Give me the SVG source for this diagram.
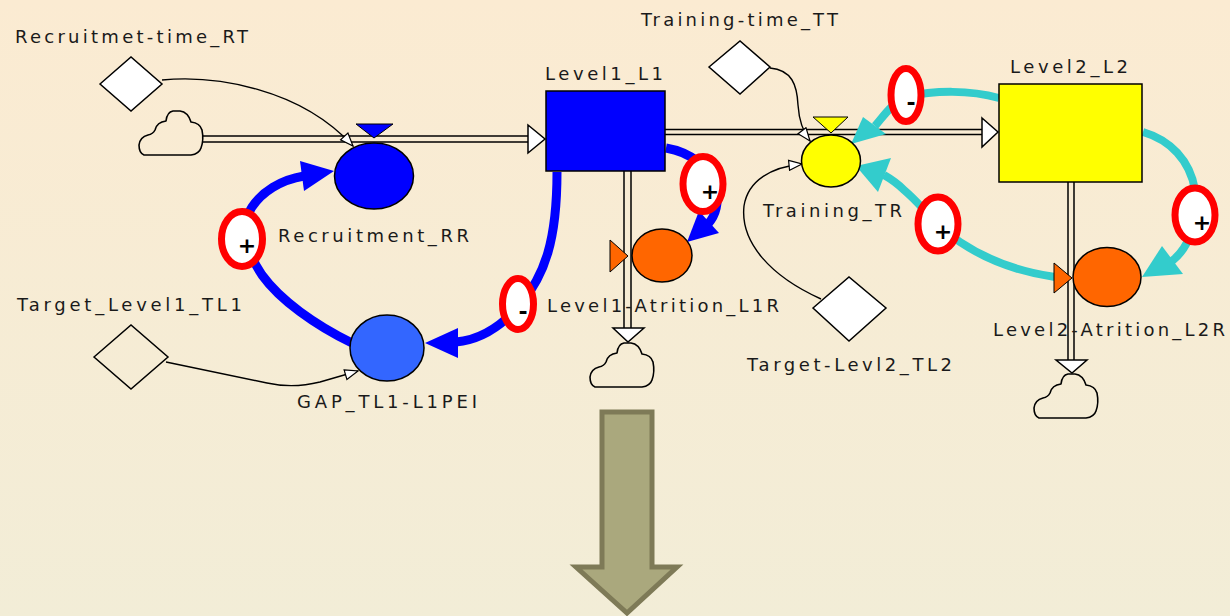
<svg xmlns="http://www.w3.org/2000/svg" width="1230" height="616" viewBox="0 0 1230 616">
  <style>
    .lbl { font-family: "DejaVu Sans", "Liberation Sans", sans-serif; font-size: 18px; fill: #1a1a1a; }
    .sign { font-family: "DejaVu Sans", "Liberation Sans", sans-serif; font-size: 22px; font-weight: bold; fill: #000; text-anchor: middle; }
    .pipe { stroke: #000; stroke-width: 1.5; fill: none; }
    .pipehead { fill: #fff; stroke: #000; stroke-width: 1.5; stroke-linejoin: miter; }
    .info { stroke: #000; stroke-width: 1.4; fill: none; }
    .blue { stroke: #0000FF; stroke-width: 9; fill: none; stroke-linecap: butt; }
    .cyan { stroke: #33CCCC; stroke-width: 8; fill: none; stroke-linecap: butt; }
    .blueHead { fill: #0000FF; }
    .cyanHead { fill: #33CCCC; }
    .pol { fill: #fff; stroke: #FF0000; stroke-width: 7; }
    .edge { stroke: #000; stroke-width: 1.5; }
    .cloud { fill: none; stroke: #000; stroke-width: 1.6; stroke-linejoin: round; }
    .diamond { fill: #fff; stroke: #000; stroke-width: 1.5; }
  </style>
  <defs>
    <linearGradient id="bg" x1="0" y1="0" x2="0" y2="1">
      <stop offset="0" stop-color="#FBEBD2"/>
      <stop offset="1" stop-color="#F2EDD7"/>
    </linearGradient>
    <marker id="hollow" markerWidth="16" markerHeight="12" refX="14" refY="6" orient="auto" markerUnits="userSpaceOnUse">
      <path d="M1,1 L14,6 L1,11 Z" fill="#fff" stroke="#000" stroke-width="1.2"/>
    </marker>
    <path id="cloudShape" class="cloud" d="M6,45 L53,45 Q61,44 63,38 Q66,30 64,20 Q62,13 53,12 Q50,2 42,1 L35,1 Q29,2 28,11 Q19,12 17,20 Q15,24 10,25 Q2,27 1,35 Q1,43 6,45 Z"/>
  </defs>

  <rect x="0" y="0" width="1230" height="616" fill="url(#bg)"/>

  <!-- material flows (pipes) and information / causal links -->
  <g id="connectors">
    <!-- source cloud to Level1 -->
    <line class="pipe" x1="203" y1="136" x2="529" y2="136"/>
    <line class="pipe" x1="203" y1="142" x2="529" y2="142"/>
    <polygon class="pipehead" points="528,125 545,139 528,153"/>
    <!-- Level1 to Level2 -->
    <line class="pipe" x1="665" y1="129.5" x2="983" y2="129.5"/>
    <line class="pipe" x1="665" y1="134.5" x2="983" y2="134.5"/>
    <polygon class="pipehead" points="982,118 998,132 982,147"/>
    <!-- Level1 outflow to sink -->
    <line class="pipe" x1="624" y1="171" x2="624" y2="329"/>
    <line class="pipe" x1="631" y1="171" x2="631" y2="329"/>
    <polygon class="pipehead" points="613,328 644,328 628,342"/>
    <!-- Level2 outflow to sink -->
    <line class="pipe" x1="1068" y1="182" x2="1068" y2="361"/>
    <line class="pipe" x1="1074" y1="182" x2="1074" y2="361"/>
    <polygon class="pipehead" points="1056,360 1087,360 1072,373"/>

    <!-- information links -->
    <path class="info" d="M162,80 C215,75 300,88 353,146" marker-end="url(#hollow)"/>
    <path class="info" d="M770,68 C792,70 797,85 798,105 C799,120 803,132 810,141" marker-end="url(#hollow)"/>
    <path class="info" d="M821,299 C770,276 740,242 744,206 C748,180 772,167 802,164" marker-end="url(#hollow)"/>
    <path class="info" d="M166,362 L267,383 C285,387 300,387 320,382 L358,371" marker-end="url(#hollow)"/>

    <!-- causal loop: blue -->
    <path class="blue" d="M557,172 C557,240 545,275 520,305 C500,328 480,340 456,342"/>
    <polygon class="blueHead" points="425,343 458,328 458,358"/>
    <path class="blue" d="M352,343 C315,325 280,300 262,275 C245,250 240,225 252,207 C262,192 280,180 304,176"/>
    <polygon class="blueHead" points="334,171 300,161 304,191"/>
    <path class="blue" d="M666,148 C690,152 712,168 716,188 C719,203 716,215 708,224"/>
    <polygon class="blueHead" points="687,242 719,233 699,211"/>

    <!-- causal loop: cyan -->
    <path class="cyan" d="M999,98 C970,90 935,90 906,97 C890,105 884,116 875,126"/>
    <polygon class="cyanHead" points="851,144 863,117 886,134"/>
    <path class="cyan" d="M1143,132 C1170,140 1190,160 1195,190 C1198,230 1186,250 1172,261"/>
    <polygon class="cyanHead" points="1142,277 1162,246 1183,274"/>
    <path class="cyan" d="M1055,277 C1020,272 990,262 960,242 C935,225 922,205 904,190 C898,184 891,179 884,175"/>
    <polygon class="cyanHead" points="856,166 891,158 878,192"/>
  </g>

  <!-- clouds (source and sinks) -->
  <g id="cloud-source"><use href="#cloudShape" transform="translate(138,110)"/></g>
  <g id="cloud-sink-L1"><use href="#cloudShape" transform="translate(589,342)"/></g>
  <g id="cloud-sink-L2"><use href="#cloudShape" transform="translate(1033,373)"/></g>

  <!-- constants -->
  <g id="RT">
    <polygon class="diamond" points="100,84 131,57 162,84 131,111"/>
    <text class="lbl" x="15" y="43" textLength="233" lengthAdjust="spacing">Recruitmet-time_RT</text>
  </g>
  <g id="TT">
    <polygon class="diamond" points="709,67 740,41 770,67 740,94"/>
    <text class="lbl" x="641" y="26" textLength="197" lengthAdjust="spacing">Training-time_TT</text>
  </g>
  <g id="TL1">
    <polygon points="94,357 131,325 168,357 131,389" fill="none" stroke="#000" stroke-width="1.5"/>
    <text class="lbl" x="17" y="311" textLength="225" lengthAdjust="spacing">Target_Level1_TL1</text>
  </g>
  <g id="TL2">
    <polygon class="diamond" points="813,308 849,277 886,308 849,341"/>
    <text class="lbl" x="747" y="371" textLength="205" lengthAdjust="spacing">Target-Levl2_TL2</text>
  </g>

  <!-- stocks -->
  <g id="L1">
    <rect x="546" y="91" width="119" height="80" fill="#0000FF" class="edge"/>
    <text class="lbl" x="545" y="80" textLength="118" lengthAdjust="spacing">Level1_L1</text>
  </g>
  <g id="L2">
    <rect x="999" y="84" width="143" height="98" fill="#FFFF00" class="edge"/>
    <text class="lbl" x="1010" y="73" textLength="118" lengthAdjust="spacing">Level2_L2</text>
  </g>

  <!-- flows / auxiliaries -->
  <g id="RR">
    <polygon points="356,124 393,124 374,138" fill="#0000FF" stroke="#000" stroke-width="1"/>
    <ellipse cx="374" cy="176" rx="39.5" ry="33" fill="#0000FF" class="edge"/>
    <text class="lbl" x="278" y="242" textLength="191" lengthAdjust="spacing">Recruitment_RR</text>
  </g>
  <g id="GAP">
    <ellipse cx="387" cy="348" rx="37" ry="33" fill="#3366FF" class="edge"/>
    <text class="lbl" x="297" y="408" textLength="180" lengthAdjust="spacing">GAP_TL1-L1PEI</text>
  </g>
  <g id="L1R">
    <polygon points="610,240 628,256 610,272" fill="#FF6600" stroke="#000" stroke-width="1"/>
    <ellipse cx="662" cy="255.5" rx="30" ry="26.5" fill="#FF6600" class="edge"/>
    <text class="lbl" x="547" y="312" textLength="232" lengthAdjust="spacing">Level1-Atrition_L1R</text>
  </g>
  <g id="TR">
    <polygon points="813,117 848,117 831,133" fill="#FFFF00" stroke="#000" stroke-width="1"/>
    <ellipse cx="831" cy="161" rx="29.5" ry="26" fill="#FFFF00" class="edge"/>
    <text class="lbl" x="763" y="217" textLength="139" lengthAdjust="spacing">Training_TR</text>
  </g>
  <g id="L2R">
    <polygon points="1054,263 1072,278 1054,293" fill="#FF6600" stroke="#000" stroke-width="1"/>
    <ellipse cx="1107" cy="277" rx="34" ry="29.5" fill="#FF6600" class="edge"/>
    <text class="lbl" x="993" y="336" textLength="232" lengthAdjust="spacing">Level2-Atrition_L2R</text>
  </g>

  <!-- link polarities -->
  <g id="pol-GAP-RR"><ellipse class="pol" cx="242" cy="239" rx="20.5" ry="27.5"/><text class="sign" x="247" y="253">+</text></g>
  <g id="pol-L1-GAP"><ellipse class="pol" cx="518" cy="304" rx="15.5" ry="25.5"/><text class="sign" x="523" y="319">-</text></g>
  <g id="pol-L1-L1R"><ellipse class="pol" cx="703" cy="184" rx="20" ry="27.5"/><text class="sign" x="710" y="199">+</text></g>
  <g id="pol-L2-TR"><ellipse class="pol" cx="906" cy="95" rx="15" ry="26.5"/><text class="sign" x="911" y="110">-</text></g>
  <g id="pol-L2-L2R"><ellipse class="pol" cx="1195" cy="215" rx="20" ry="27"/><text class="sign" x="1202" y="230">+</text></g>
  <g id="pol-L2R-TR"><ellipse class="pol" cx="938" cy="224" rx="20" ry="27"/><text class="sign" x="943" y="239">+</text></g>

  <!-- transition arrow -->
  <g id="down-arrow">
    <polygon points="602,412 652,412 652,567 677,567 627,613 576,567 602,567" fill="#AAA87D" stroke="#7E7A57" stroke-width="5"/>
  </g>
</svg>
